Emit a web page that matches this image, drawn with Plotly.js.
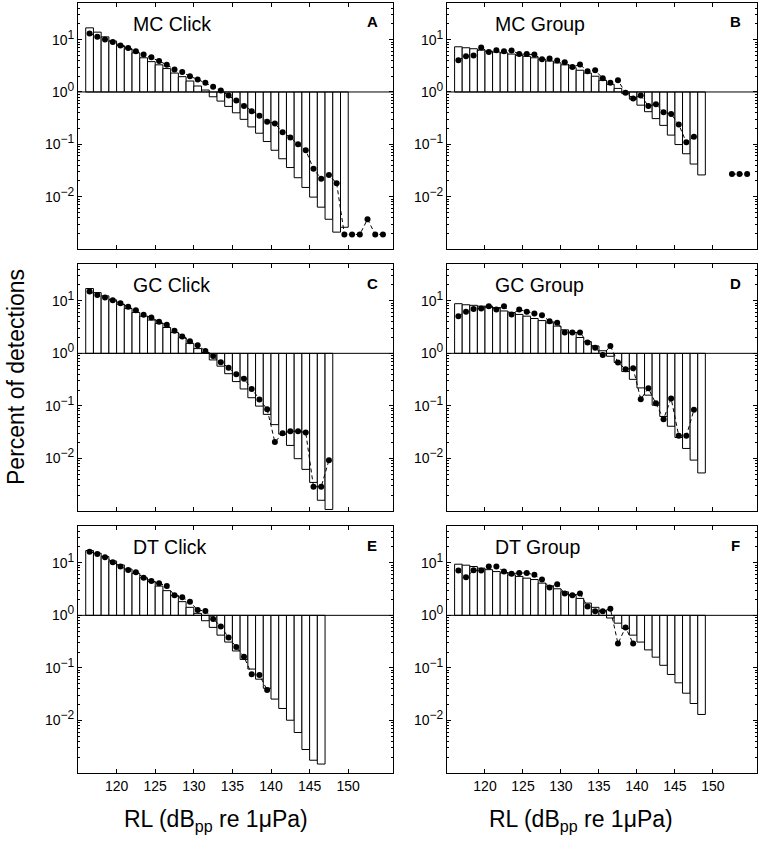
<!DOCTYPE html>
<html>
<head>
<meta charset="utf-8">
<script src="https://cdn.plot.ly/plotly-3.0.1.min.js"></script>
<style>body{margin:0;background:#fff;}</style>
</head>
<body>
<div id="graph" style="width:765px;height:842px;"></div>
<script>
// bin centres, dB pp re 1 uPa
let rl = [116.5, 117.5, 118.5, 119.5, 120.5, 121.5, 122.5, 123.5, 124.5, 125.5,
          126.5, 127.5, 128.5, 129.5, 130.5, 131.5, 132.5, 133.5, 134.5, 135.5,
          136.5, 137.5, 138.5, 139.5, 140.5, 141.5, 142.5, 143.5, 144.5, 145.5,
          146.5, 147.5, 148.5, 149.5, 150.5, 151.5, 152.5, 153.5, 154.5];

let xTickVals = [120, 125, 130, 135, 140, 145, 150];
let yTickVals = [0.01, 0.1, 1, 10];
let yTickText = ['10<sup><span style="font-size:12px">\u22122</span></sup>',
                 '10<sup><span style="font-size:12px">\u22121</span></sup>',
                 '10<sup><span style="font-size:12px">0</span></sup>',
                 '10<sup><span style="font-size:12px">1</span></sup>'];

let panelNames = ['MC Click', 'MC Group', 'GC Click', 'GC Group', 'DT Click', 'DT Group'];
let panelLetters = ['A', 'B', 'C', 'D', 'E', 'F'];

// bars = model, dots = measured (percent of detections)
let barsA = [16.8, 13.9, 11.3, 9.4, 7.7, 6.7, 5.6, 4.5, 3.8, 3.3, 2.8, 2.3, 1.96, 1.62, 1.30, 1.09,
             0.81, 0.67, 0.53, 0.40, 0.30, 0.215, 0.163, 0.113, 0.077, 0.053, 0.036, 0.023, 0.015,
             0.0098, 0.0063, 0.0037, 0.0021, 0.0026];
let dotsA = [13.1, 11.3, 10.1, 9.0, 7.7, 6.9, 6.0, 5.2, 4.6, 3.9, 3.3, 2.7, 2.4, 1.99, 1.74, 1.5,
             1.26, 1.07, 0.86, 0.69, 0.54, 0.43, 0.35, 0.27, 0.25, 0.17, 0.135, 0.10, 0.077, 0.034,
             0.022, 0.026, 0.018, 0.0019, 0.0019, 0.0019, 0.0037, 0.0019, 0.0019];

let barsB = [7.3, 7.0, 6.7, 6.3, 6.0, 5.8, 5.6, 5.3, 5.0, 4.8, 4.5, 4.2, 3.9, 3.6, 3.3, 2.9, 2.6,
             2.3, 2.0, 1.67, 1.40, 1.17, 0.93, 0.73, 0.56, 0.42, 0.31, 0.23, 0.15, 0.099, 0.066,
             0.042, 0.026];
let dotsB = [4.05, 4.8, 5.0, 7.1, 5.8, 6.3, 6.0, 6.2, 5.3, 5.3, 5.2, 4.2, 4.35, 4.0, 3.7, 3.0, 3.35,
             2.5, 2.6, 1.82, 1.5, 1.67, 0.97, 0.75, 0.86, 0.54, 0.58, 0.41, 0.38, 0.24, 0.109, 0.14,
             null, null, null, null, 0.027, 0.027, 0.027];

let barsC = [17.1, 14.3, 12.4, 10.4, 8.6, 7.1, 6.0, 5.1, 4.3, 3.7, 3.1, 2.5, 1.99, 1.55, 1.23, 1.04,
             0.75, 0.57, 0.41, 0.29, 0.21, 0.143, 0.099, 0.069, 0.044, 0.029, 0.0177, 0.0099,
             0.0062, 0.0035, 0.0016, 0.00107];
let dotsC = [15, 12.9, 11.5, 10.2, 9.0, 7.7, 6.6, 5.4, 4.8, 4.0, 3.5, 2.7, 2.1, 1.69, 1.42, 1.11,
             0.89, 0.68, 0.53, 0.40, 0.33, 0.21, 0.133, 0.086, 0.0205, 0.030, 0.033, 0.033, 0.031,
             0.0029, 0.0029, 0.0092];

let barsD = [8.8, 8.4, 8.2, 7.9, 7.9, 7.4, 6.4, 5.9, 5.5, 5.1, 4.6, 4.2, 3.8, 3.3, 2.8, 2.5, 2.0,
             1.67, 1.38, 1.12, 0.88, 0.67, 0.45, 0.32, 0.22, 0.16, 0.103, 0.063, 0.041, 0.025,
             0.0155, 0.0093, 0.0053];
let dotsD = [5.1, 6.2, 7.0, 7.1, 7.9, 6.8, 7.9, 5.5, 6.8, 6.2, 5.7, 5.3, 4.1, 3.8, 2.5, 2.5, 2.5,
             1.6, 1.28, 0.93, 1.38, 0.67, 0.50, 0.52, 0.134, 0.216, 0.112, 0.056, 0.138, 0.027,
             0.027, 0.084];

let barsE = [17.1, 15.2, 13.1, 10.8, 9.1, 7.6, 6.3, 5.2, 4.4, 3.6, 2.95, 2.4, 1.82, 1.42, 1.09,
             0.79, 0.59, 0.42, 0.31, 0.21, 0.145, 0.095, 0.061, 0.041, 0.0255, 0.0169, 0.0101,
             0.0059, 0.0028, 0.00175, 0.00148];
let dotsE = [16.3, 14.7, 12.7, 10.2, 8.5, 7.3, 6.6, 5.2, 4.5, 4.1, 3.6, 2.4, 2.2, 1.82, 1.26, 1.21,
             0.85, 0.61, 0.38, 0.25, 0.163, 0.076, 0.073, 0.038];

let barsF = [9.4, 9.0, 8.5, 7.9, 7.4, 6.8, 6.4, 5.9, 5.5, 5.1, 4.8, 4.1, 3.6, 3.2, 2.8, 2.4, 2.1,
             1.71, 1.42, 1.23, 0.89, 0.71, 0.56, 0.42, 0.31, 0.22, 0.16, 0.112, 0.075, 0.052,
             0.033, 0.021, 0.013];
let dotsF = [7.1, 5.3, 7.2, 7.1, 8.5, 8.5, 6.8, 6.2, 6.4, 6.4, 5.9, 4.8, 3.4, 3.9, 2.6, 2.4, 2.6,
             1.48, 1.19, 1.19, 1.34, 0.29, 0.59, 0.29];

let allBars = [barsA, barsB, barsC, barsD, barsE, barsF];
let allDots = [dotsA, dotsB, dotsC, dotsD, dotsE, dotsF];

// page geometry, pixels
var W = 765, H = 842;
var cols = [[78, 393], [447, 757]];
var rows = [[3, 249], [264, 511], [526, 773]];
var nameLeft = [131, 493];
var letterX = [372, 735];

var px = function(x){ return x / W; };
var py = function(y){ return 1 - y / H; };

var data = [];
var shapes = [];
var annotations = [];
var layout = {
	width: W, height: H,
	margin: {l: 0, r: 0, t: 0, b: 0},
	paper_bgcolor: 'white',
	plot_bgcolor: 'white',
	showlegend: false,
	bargap: 0,
	font: {family: 'Liberation Sans, Arial, sans-serif', color: 'black', size: 14}
};

for (let i = 0; i < 6; i++) {
	let c = i % 2;
	let r = Math.floor(i / 2);
	let n = i + 1;
	let xa = 'x' + (n > 1 ? n : '');
	let ya = 'y' + (n > 1 ? n : '');

	let bars = allBars[i];
	let dots = allDots[i];

	data.push({
		type: 'bar',
		x: rl.slice(0, bars.length),
		y: bars.map(function(v){ return v - 1; }),
		base: 1,
		width: 1,
		marker: {color: 'white', line: {color: 'black', width: 1}},
		xaxis: xa, yaxis: ya,
		hoverinfo: 'skip'
	});
	data.push({
		type: 'scatter',
		mode: 'lines+markers',
		x: rl.slice(0, dots.length),
		y: dots,
		connectgaps: false,
		line: {color: 'black', width: 1, dash: '4px,3px'},
		marker: {color: 'black', size: 6},
		xaxis: xa, yaxis: ya
	});

	layout['xaxis' + (n > 1 ? n : '')] = {
		domain: [px(cols[c][0]), px(cols[c][1])],
		anchor: ya,
		range: [115, 155.8],
		tickmode: 'array',
		tickvals: xTickVals,
		ticks: 'inside', ticklen: 4, tickcolor: 'black',
		showticklabels: r === 2,
		tickfont: {size: 14},
		showline: true, linecolor: 'black', linewidth: 1, mirror: 'allticks',
		showgrid: false, zeroline: false
	};
	layout['yaxis' + (n > 1 ? n : '')] = {
		domain: [py(rows[r][1]), py(rows[r][0])],
		anchor: xa,
		type: 'log',
		range: [-3, 1.7],
		tickmode: 'array',
		tickvals: yTickVals,
		ticktext: yTickText,
		ticks: 'inside', ticklen: 4, tickcolor: 'black',
		tickfont: {size: 14},
		minor: {ticks: 'inside', ticklen: 2, tickcolor: 'black', dtick: 'D1', showgrid: false},
		showline: true, linecolor: 'black', linewidth: 1, mirror: 'allticks',
		showgrid: false, zeroline: false
	};

	// reference line at 10^0
	shapes.push({
		type: 'line', xref: xa + ' domain', yref: ya,
		x0: 0, x1: 1, y0: 1, y1: 1,
		line: {color: 'black', width: 1}
	});

	annotations.push({
		text: panelNames[i], showarrow: false,
		xref: 'paper', yref: 'paper',
		x: px(nameLeft[c]), y: py(rows[r][0] + 21),
		xanchor: 'left', yanchor: 'middle',
		font: {size: 19.5}
	});
	annotations.push({
		text: '<b>' + panelLetters[i] + '</b>', showarrow: false,
		xref: 'paper', yref: 'paper',
		x: px(letterX[c]), y: py(rows[r][0] + 19),
		xanchor: 'center', yanchor: 'middle',
		font: {size: 15}
	});
}

//axis titles
annotations.push({
	text: 'Percent of detections', showarrow: false, textangle: -90,
	xref: 'paper', yref: 'paper', x: px(16), y: py(377),
	xanchor: 'center', yanchor: 'middle',
	font: {size: 23}
});
annotations.push({
	text: 'RL (dB<sub>pp</sub> re 1\u03bcPa)', showarrow: false,
	xref: 'paper', yref: 'paper', x: px(216), y: py(820),
	xanchor: 'center', yanchor: 'middle',
	font: {size: 23}
});
annotations.push({
	text: 'RL (dB<sub>pp</sub> re 1\u03bcPa)', showarrow: false,
	xref: 'paper', yref: 'paper', x: px(581), y: py(820),
	xanchor: 'center', yanchor: 'middle',
	font: {size: 23}
});

layout.shapes = shapes;
layout.annotations = annotations;

Plotly.newPlot('graph', data, layout, {staticPlot: true});
</script>
</body>
</html>
